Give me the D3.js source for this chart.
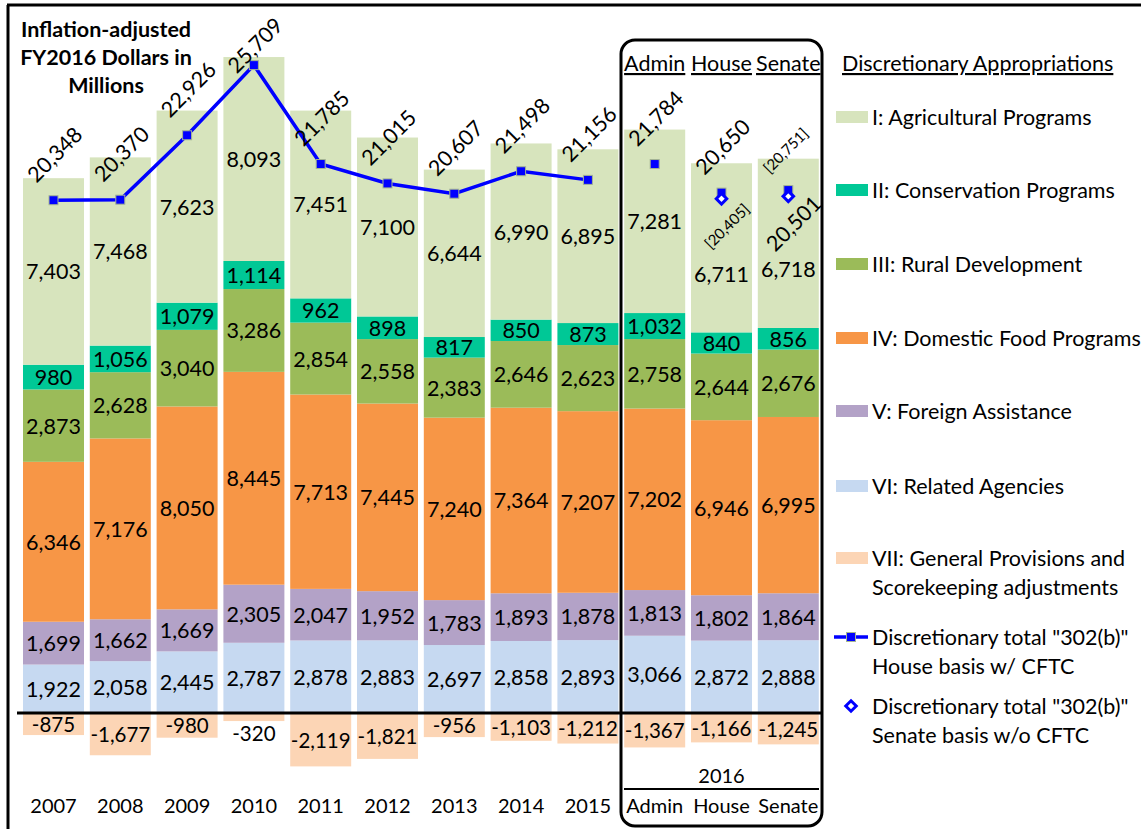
<!DOCTYPE html>
<html><head><meta charset="utf-8">
<script src="https://cdn.jsdelivr.net/npm/d3@7"></script>
<style>
body{margin:0;background:#fff;}
text{font-family:Lato,"Open Sans",sans-serif;fill:#000;}
</style></head><body>
<svg id="c" width="1141" height="829"></svg>
<script>
const categories=["2007","2008","2009","2010","2011","2012","2013","2014","2015","Admin","House","Senate"];
const seriesNames=["I: Agricultural Programs","II: Conservation Programs","III: Rural Development","IV: Domestic Food Programs","V: Foreign Assistance","VI: Related Agencies","VII: General Provisions and|Scorekeeping adjustments"];
const agricultural=[7403,7468,7623,8093,7451,7100,6644,6990,6895,7281,6711,6718];
const conservation=[980,1056,1079,1114,962,898,817,850,873,1032,840,856];
const rural=[2873,2628,3040,3286,2854,2558,2383,2646,2623,2758,2644,2676];
const domesticFood=[6346,7176,8050,8445,7713,7445,7240,7364,7207,7202,6946,6995];
const foreign=[1699,1662,1669,2305,2047,1952,1783,1893,1878,1813,1802,1864];
const related=[1922,2058,2445,2787,2878,2883,2697,2858,2893,3066,2872,2888];
const generalProv=[-875,-1677,-980,-320,-2119,-1821,-956,-1103,-1212,-1367,-1166,-1245];
const houseBasis=[20348,20370,22926,25709,21785,21015,20607,21498,21156,21784,20650,20751];
const senateBasis=[null,null,null,null,null,null,null,null,null,null,20405,20501];
const colors=["#d7e4bd","#00c896","#9bbb59","#f79646","#b3a2c7","#c6d9f1","#fcd5b5"];

const FS=21.5;
const svg=d3.select("#c");
const x=d3.scaleBand().domain(categories).range([20.1,821.7]).paddingInner(0.087).paddingOuter(0.0435);
const y=d3.scaleLinear().domain([-3000,26500]).range([788.6,45.2]);
const fmt=d3.format(",");

// frame
svg.append("line").attr("x1",7).attr("x2",1141).attr("y1",5).attr("y2",5).attr("stroke","#000").attr("stroke-width",3);
svg.append("line").attr("x1",8).attr("x2",8).attr("y1",5).attr("y2",829).attr("stroke","#000").attr("stroke-width",3);

const pos=[agricultural,conservation,rural,domesticFood,foreign,related];
const order=[5,4,3,2,1,0];
categories.forEach((c,i)=>{
  let base=0;
  order.forEach(s=>{
    const v=pos[s][i];
    const y0=y(base), y1=y(base+v);
    svg.append("rect").attr("x",x(c)).attr("width",x.bandwidth()).attr("y",y1).attr("height",y0-y1).attr("fill",colors[s]);
    // top segment label shifted down when lower total label occupies the space
    const shift=(s===0 && senateBasis[i]!=null)?26:0;
    svg.append("text").attr("x",x(c)+x.bandwidth()/2).attr("y",(y0+y1)/2+shift).attr("text-anchor","middle")
      .attr("dominant-baseline","central").attr("font-size",FS).text(fmt(v));
    base+=v;
  });
  const nv=generalProv[i];
  const ny0=y(0), ny1=y(nv);
  svg.append("rect").attr("x",x(c)).attr("width",x.bandwidth()).attr("y",ny0).attr("height",ny1-ny0).attr("fill",colors[6]);
  const ly=(ny1-ny0)<20? ny1+12 : (ny0+ny1)/2;
  svg.append("text").attr("x",x(c)+x.bandwidth()/2).attr("y",ly).attr("text-anchor","middle")
    .attr("dominant-baseline","central").attr("font-size",20.5).text(fmt(nv).replace("−","-"));
});

// zero line
svg.append("line").attr("x1",17).attr("x2",822).attr("y1",y(0)).attr("y2",y(0)).attr("stroke","#000").attr("stroke-width",3);

// line (years only)
const yrIdx=d3.range(0,9);
const line=d3.line().x(i=>x(categories[i])+x.bandwidth()/2).y(i=>y(houseBasis[i]));
svg.append("path").attr("d",line(yrIdx)).attr("fill","none").attr("stroke","#0000ff").attr("stroke-width",3.5);
houseBasis.forEach((v,i)=>{
  const cx=x(categories[i])+x.bandwidth()/2;
  svg.append("rect").attr("x",cx-4.5).attr("y",y(v)-4.5).attr("width",9).attr("height",9)
    .attr("fill","#0000ff").attr("stroke","#a5b592").attr("stroke-width",1);
});
senateBasis.forEach((v,i)=>{
  if(v==null) return;
  const cx=x(categories[i])+x.bandwidth()/2;
  svg.append("path").attr("d",d3.symbol(d3.symbolDiamond2,70)()).attr("transform",`translate(${cx},${y(v)})`)
    .attr("fill","#fff").attr("stroke","#0000ff").attr("stroke-width",3);
});

// total labels
const upperBracket=[false,false,false,false,false,false,false,false,false,false,false,true];
houseBasis.forEach((v,i)=>{
  const cx=x(categories[i])+x.bandwidth()/2;
  const br=upperBracket[i];
  const cy=Math.max(y(v)-(br?40:46),45);
  svg.append("text").attr("transform",`translate(${cx+(br?-3:1)},${cy}) rotate(-45)`)
    .attr("text-anchor","middle").attr("dominant-baseline","central").attr("font-size",br?15:FS)
    .text(br?`[${fmt(v)}]`:fmt(v));
});
const lowerBracket=[false,false,false,false,false,false,false,false,false,false,true,false];
senateBasis.forEach((v,i)=>{
  if(v==null) return;
  const cx=x(categories[i])+x.bandwidth()/2;
  const br=lowerBracket[i];
  svg.append("text").attr("transform",`translate(${cx+5},${y(v)+27}) rotate(-45)`)
    .attr("text-anchor","middle").attr("dominant-baseline","central").attr("font-size",br?15:FS)
    .text(br?`[${fmt(v)}]`:fmt(v));
});

// year labels
categories.forEach((c,i)=>{
  svg.append("text").attr("x",x(c)+x.bandwidth()/2).attr("y",813).attr("text-anchor","middle").attr("font-size",20).text(c);
});
// 2016 box
svg.append("rect").attr("x",621).attr("y",40).attr("width",201).attr("height",786).attr("rx",14)
  .attr("fill","none").attr("stroke","#000").attr("stroke-width",3);
["Admin","House","Senate"].forEach(c=>{
  svg.append("text").attr("x",x(c)+x.bandwidth()/2).attr("y",71).attr("text-anchor","middle").attr("font-size",FS)
    .style("text-decoration","underline").text(c);
});
svg.append("text").attr("x",(x("Admin")+x("Senate")+x.bandwidth())/2).attr("y",783).attr("text-anchor","middle").attr("font-size",20).text("2016");
svg.append("line").attr("x1",624).attr("x2",819).attr("y1",789).attr("y2",789).attr("stroke","#000").attr("stroke-width",2);

// title
["Inflation-adjusted","FY2016 Dollars in","Millions"].forEach((t,k)=>{
  svg.append("text").attr("x",106).attr("y",37+k*28).attr("text-anchor","middle").attr("font-size",21.5)
    .attr("font-weight","bold").text(t);
});

// legend
svg.append("text").attr("x",842).attr("y",71).attr("font-size",FS).style("text-decoration","underline").text("Discretionary Appropriations");
const legY=[117,190,264,338,411,486,558];
seriesNames.forEach((n,s)=>{
  svg.append("rect").attr("x",836).attr("y",legY[s]-6).attr("width",32).attr("height",12).attr("fill",colors[s]);
  n.split("|").forEach((t,k)=>{
    svg.append("text").attr("x",872).attr("y",legY[s]+k*29).attr("dominant-baseline","central").attr("font-size",FS).text(t);
  });
});
svg.append("line").attr("x1",834).attr("x2",868).attr("y1",637).attr("y2",637).attr("stroke","#0000ff").attr("stroke-width",3.5);
svg.append("rect").attr("x",846.5).attr("y",632.5).attr("width",9).attr("height",9).attr("fill","#0000ff").attr("stroke","#a5b592");
["Discretionary total \"302(b)\"","House basis w/ CFTC"].forEach((t,k)=>{
  svg.append("text").attr("x",872).attr("y",637+k*29).attr("dominant-baseline","central").attr("font-size",FS).text(t);
});
svg.append("path").attr("d",d3.symbol(d3.symbolDiamond2,70)()).attr("transform","translate(851,706)")
  .attr("fill","#fff").attr("stroke","#0000ff").attr("stroke-width",3);
["Discretionary total \"302(b)\"","Senate basis w/o CFTC"].forEach((t,k)=>{
  svg.append("text").attr("x",872).attr("y",706+k*29).attr("dominant-baseline","central").attr("font-size",FS).text(t);
});
</script></body></html>
